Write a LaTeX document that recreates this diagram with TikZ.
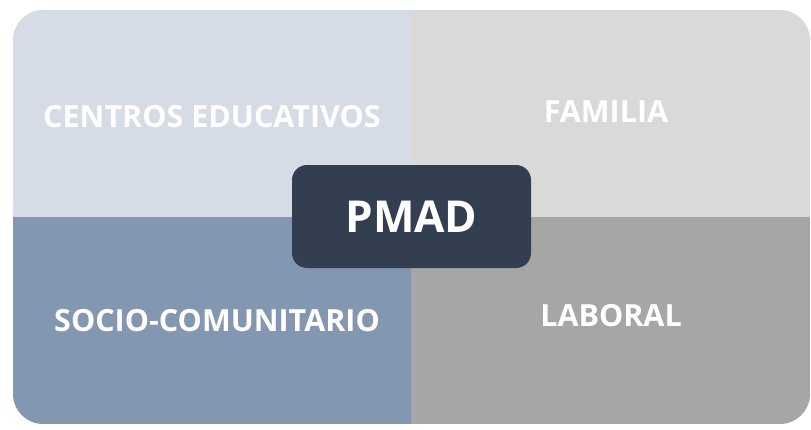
\documentclass[tikz,border=0pt]{standalone}
\usepackage{fontspec}
\setmainfont{Open Sans}
\definecolor{eduback}{HTML}{D6DCE5}
\definecolor{famback}{HTML}{D9D9D9}
\definecolor{socback}{HTML}{8497B0}
\definecolor{labback}{HTML}{A6A6A6}
\definecolor{pmadback}{HTML}{333F50}
\begin{document}
\begin{tikzpicture}[x=1pt,y=-1pt,
  area/.style={text=white,font=\bfseries\fontsize{30.5}{30.5}\selectfont}]
\useasboundingbox (0,0) rectangle (811,429);
\begin{scope}
\clip[rounded corners=30pt] (13,10) rectangle (810,424);
\fill[eduback] (13,10) rectangle (411,217); \fill[famback] (411,10) rectangle (810,217);
\fill[socback] (13,217) rectangle (411,424); \fill[labback] (411,217) rectangle (810,424);
\end{scope}
\node[area] (edu) at (212,117) {CENTROS EDUCATIVOS};
\node[area] (fam) at (606,112) {FAMILIA};
\node[area] (soc) at (217,321) {SOCIO-COMUNITARIO};
\node[area] (lab) at (611,316) {LABORAL};
\node[fill=pmadback,rounded corners=15pt,minimum width=239pt,minimum height=103pt,
  text=white,font=\bfseries\fontsize{44}{44}\selectfont] (pmad) at (411.5,216.5) {PMAD};
\end{tikzpicture}
\end{document}
